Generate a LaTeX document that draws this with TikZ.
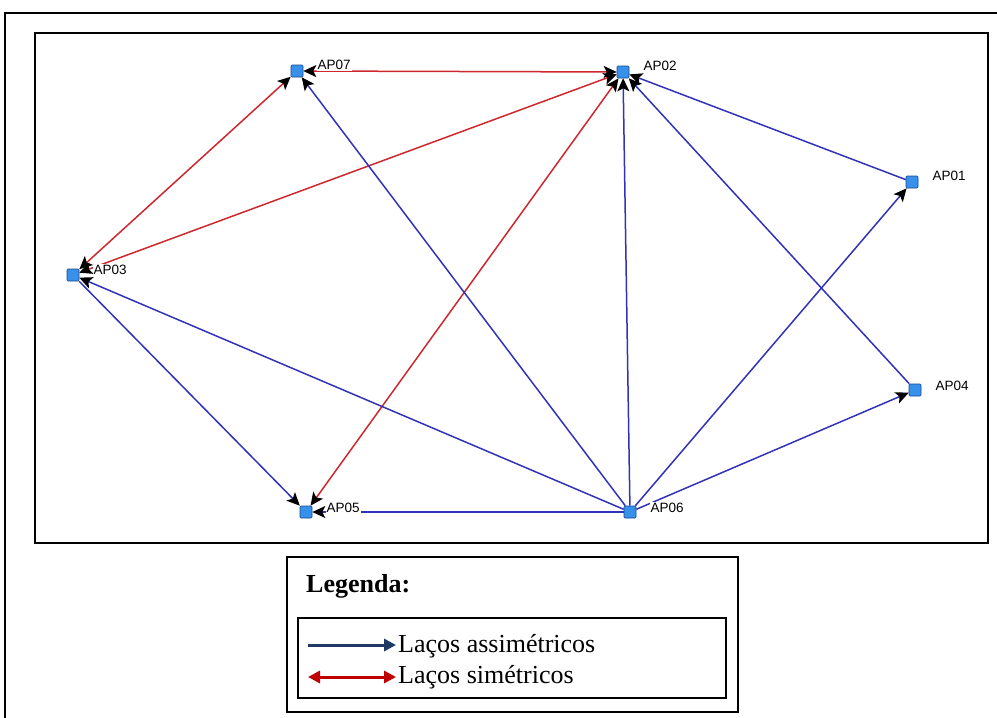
\documentclass[tikz,border=0pt]{standalone}
\usepackage{fontspec}
\setmainfont{Liberation Serif}
\newfontfamily\netfont{Liberation Sans}
\usetikzlibrary{arrows.meta,positioning}

\definecolor{symred}{RGB}{205,40,45}
\definecolor{asymblue}{RGB}{50,50,185}
\definecolor{actorfill}{RGB}{55,145,235}
\definecolor{actordraw}{RGB}{25,70,140}
\definecolor{legblue}{RGB}{31,56,100}
\definecolor{legred}{RGB}{192,0,0}

\tikzset{
  actor/.style={rectangle, draw=actordraw, fill=actorfill, line width=0.6pt,
    minimum size=12pt, inner sep=0pt, rounded corners=1pt},
  aplabel/.style={fill=white, inner sep=1pt, font=\netfont\fontsize{13.5}{15}\selectfont},
  asym/.style={asymblue, line width=1.5pt,
    -{Stealth[length=13pt,width=12pt,inset=3pt,color=black,fill=black]}},
  sym/.style={symred, line width=1.5pt,
    {Stealth[length=13pt,width=12pt,inset=3pt,color=black,fill=black]}-{Stealth[length=13pt,width=12pt,inset=3pt,color=black,fill=black]}},
  frame/.style={line width=1.8pt},
  legtext/.style={anchor=base west, inner sep=0pt, font=\fontsize{26}{31}\selectfont},
}

\begin{document}
\begin{tikzpicture}[x=1pt, y=-1pt]
    \useasboundingbox (0,0) rectangle (997,718);

    % Frames
    \draw[frame] (5,740) |- (1020,13);
    \draw[frame] (35,33) rectangle (988,543);

    % Actors
    \node[actor] (AP07) at (297,71) {};
    \node[actor] (AP02) at (623,72) {};
    \node[actor] (AP01) at (912,182) {};
    \node[actor] (AP03) at (73,275) {};
    \node[actor] (AP04) at (915,390) {};
    \node[actor] (AP05) at (306,512) {};
    \node[actor] (AP06) at (630,512) {};

    % Symmetric ties
    \draw[sym] (AP07) -- (AP02);
    \draw[sym] (AP03) -- (AP07);
    \draw[sym] (AP03) -- (AP02);
    \draw[sym] (AP05) -- (AP02);

    % Asymmetric ties
    \draw[asym] (AP06) -- (AP07);
    \draw[asym] (AP06) -- (AP02);
    \draw[asym] (AP01) -- (AP02);
    \draw[asym] (AP04) -- (AP02);
    \draw[asym] (AP06) -- (AP01);
    \draw[asym] (AP06) -- (AP04);
    \draw[asym] (AP06) -- (AP03);
    \draw[asym] (AP03) -- (AP05);
    \draw[asym] (AP06) -- (AP05);

    % Labels
    \node[aplabel, right=13pt of AP07, yshift=6pt] (t07) {AP07};
    \node[aplabel, right=13pt of AP02, yshift=6pt] (t02) {AP02};
    \node[aplabel, right=13pt of AP01, yshift=6pt] (t01) {AP01};
    \node[aplabel, right=13pt of AP03, yshift=5pt] (t03) {AP03};
    \node[aplabel, right=13pt of AP04, yshift=4pt] (t04) {AP04};
    \node[aplabel, right=13pt of AP05, yshift=4pt] (t05) {AP05};
    \node[aplabel, right=13pt of AP06, yshift=4pt] (t06) {AP06};

    % Legend
    \draw[line width=1.4pt] (287,557) rectangle (738,712);
    \node[legtext, font=\fontsize{26}{31}\selectfont\bfseries] (legtitle) at (306,592) {Legenda:};
    \draw[line width=1.4pt] (298,618) rectangle (726,698);
    \coordinate (a1) at (308,645);
    \coordinate (a2) at (396,645);
    \coordinate (s1) at (308,677);
    \coordinate (s2) at (396,677);
    \draw[legblue, line width=3pt, -{Triangle[length=12pt,width=12pt]}] (a1) -- (a2);
    \draw[legred, line width=3pt, {Triangle[length=12pt,width=12pt]}-{Triangle[length=12pt,width=12pt]}] (s1) -- (s2);
    \node[legtext] (asymtext) at (398,652) {Laços assimétricos};
    \node[legtext] (symtext) at (398,683) {Laços simétricos};
\end{tikzpicture}
\end{document}
